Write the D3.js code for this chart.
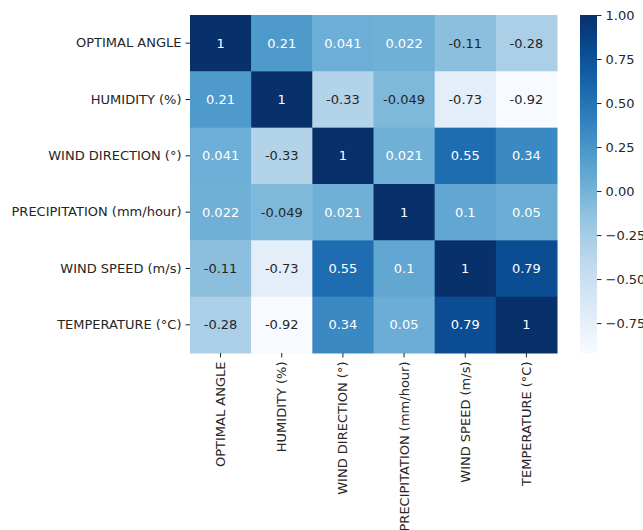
<!DOCTYPE html>
<html>
<head>
<meta charset="utf-8">
<script src="https://cdn.jsdelivr.net/npm/d3@7"></script>
<style>
  html, body { margin: 0; padding: 0; background: #fff; }
  svg { display: block; font-family: "DejaVu Sans", sans-serif; }
</style>
</head>
<body>
<svg id="chart" width="643" height="530"></svg>
<script>
// Variables of the correlation matrix (row order = column order)
const variables = [
  "OPTIMAL ANGLE",
  "HUMIDITY (%)",
  "WIND DIRECTION (°)",
  "PRECIPITATION (mm/hour)",
  "WIND SPEED (m/s)",
  "TEMPERATURE (°C)"
];

// Pearson correlation rows
const rowOptimalAngle  = [1, 0.21, 0.041, 0.022, -0.11, -0.28];
const rowHumidity      = [0.21, 1, -0.33, -0.049, -0.73, -0.92];
const rowWindDirection = [0.041, -0.33, 1, 0.021, 0.55, 0.34];
const rowPrecipitation = [0.022, -0.049, 0.021, 1, 0.1, 0.05];
const rowWindSpeed     = [-0.11, -0.73, 0.55, 0.1, 1, 0.79];
const rowTemperature   = [-0.28, -0.92, 0.34, 0.05, 0.79, 1];

const colorbarTicks = [-0.75, -0.5, -0.25, 0, 0.25, 0.5, 0.75, 1.0];

const matrix = [rowOptimalAngle, rowHumidity, rowWindDirection,
                rowPrecipitation, rowWindSpeed, rowTemperature];

const cells = [];
matrix.forEach((row, i) => row.forEach((v, j) => {
  cells.push({ row: variables[i], col: variables[j], value: v });
}));

const svg = d3.select("#chart");

const plot = { left: 190, top: 15, right: 557, bottom: 353 };

const x = d3.scaleBand().domain(variables).range([plot.left, plot.right]).padding(0);
const y = d3.scaleBand().domain(variables).range([plot.top, plot.bottom]).padding(0);

const allValues = matrix.flat();
const vmin = d3.min(allValues), vmax = d3.max(allValues);
const color = d3.scaleSequential(d3.interpolateBlues).domain([vmin, vmax]);

// relative luminance, used to pick a readable annotation colour
function luminance(c) {
  const rgb = d3.rgb(c);
  const lin = [rgb.r, rgb.g, rgb.b].map(u => {
    u = u / 255;
    return u <= 0.03928 ? u / 12.92 : Math.pow((u + 0.055) / 1.055, 2.4);
  });
  return 0.2126 * lin[0] + 0.7152 * lin[1] + 0.0722 * lin[2];
}

// cells
svg.append("g")
  .selectAll("rect")
  .data(cells)
  .join("rect")
  .attr("x", d => x(d.col))
  .attr("y", d => y(d.row))
  .attr("width", x.bandwidth() + 0.5)
  .attr("height", y.bandwidth() + 0.5)
  .attr("fill", d => color(d.value));

// annotations
svg.append("g")
  .selectAll("text")
  .data(cells)
  .join("text")
  .attr("x", d => x(d.col) + x.bandwidth() / 2)
  .attr("y", d => y(d.row) + y.bandwidth() / 2)
  .attr("text-anchor", "middle")
  .attr("dominant-baseline", "central")
  .attr("font-size", 13)
  .attr("fill", d => luminance(color(d.value)) > 0.408 ? "#262626" : "#ffffff")
  .text(d => String(d.value).replace("-", "-"));

// y axis
const yAxis = svg.append("g")
  .attr("transform", `translate(${plot.left},0)`)
  .call(d3.axisLeft(y).tickSize(4.5).tickPadding(4));
yAxis.select(".domain").remove();
yAxis.selectAll(".tick line").attr("stroke", "#262626");
yAxis.selectAll(".tick text")
  .attr("font-size", 13)
  .attr("font-family", "DejaVu Sans, sans-serif")
  .attr("fill", "#262626");

// x axis, labels rotated
const xAxis = svg.append("g")
  .attr("transform", `translate(0,${plot.bottom})`)
  .call(d3.axisBottom(x).tickSize(4.5).tickPadding(4));
xAxis.select(".domain").remove();
xAxis.selectAll(".tick line").attr("stroke", "#262626");
xAxis.selectAll(".tick text")
  .attr("font-size", 13)
  .attr("font-family", "DejaVu Sans, sans-serif")
  .attr("fill", "#262626")
  .attr("text-anchor", "end")
  .attr("dy", "0.35em")
  .attr("transform", "translate(0,8.5) rotate(-90)")
  .attr("y", 0)
  .attr("x", 0);

// colorbar
const cb = { left: 580, width: 17, top: plot.top, bottom: plot.bottom };
const cbScale = d3.scaleLinear().domain([vmin, vmax]).range([cb.bottom, cb.top]);

const defs = svg.append("defs");
const grad = defs.append("linearGradient")
  .attr("id", "cbGrad")
  .attr("x1", 0).attr("y1", 1).attr("x2", 0).attr("y2", 0);
d3.range(0, 1.0001, 0.05).forEach(t => {
  grad.append("stop")
    .attr("offset", t)
    .attr("stop-color", color(vmin + t * (vmax - vmin)));
});

svg.append("rect")
  .attr("x", cb.left)
  .attr("y", cb.top)
  .attr("width", cb.width)
  .attr("height", cb.bottom - cb.top)
  .attr("fill", "url(#cbGrad)");

const cbAxis = svg.append("g")
  .attr("transform", `translate(${cb.left + cb.width},0)`)
  .call(d3.axisRight(cbScale).tickValues(colorbarTicks).tickFormat(d3.format(".2f")).tickSize(4.5).tickPadding(4));
cbAxis.select(".domain").remove();
cbAxis.selectAll(".tick line").attr("stroke", "#262626");
cbAxis.selectAll(".tick text")
  .attr("font-size", 13)
  .attr("font-family", "DejaVu Sans, sans-serif")
  .attr("fill", "#262626");
</script>
</body>
</html>
